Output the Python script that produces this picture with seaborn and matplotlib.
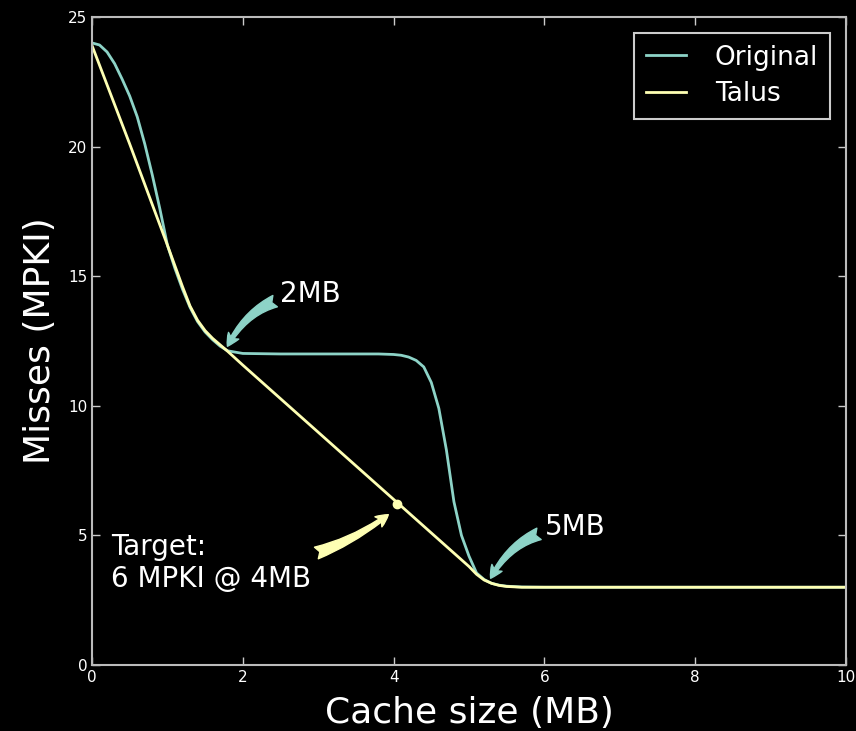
import matplotlib
matplotlib.use("Agg")
import matplotlib.pyplot as plt
import numpy as np
import pandas as pd
import seaborn as sns

# ---- data ----
orig_x = [0.0, 0.1, 0.2, 0.3, 0.4, 0.5, 0.6, 0.7, 0.8, 0.9, 1.0, 1.1, 1.2, 1.3,
          1.4, 1.5, 1.6, 1.7, 1.8, 2.0, 2.5, 3.0, 3.5, 3.8, 4.0, 4.1, 4.2, 4.3,
          4.4, 4.5, 4.6, 4.7, 4.8, 4.9, 5.0, 5.1, 5.2, 5.3, 5.4, 5.5, 5.7, 6.0,
          7.0, 8.0, 9.0, 10.0]
orig_y = [24.0, 23.92, 23.65, 23.2, 22.6, 21.95, 21.15, 20.1, 18.9, 17.6, 16.2, 15.3,
          14.5, 13.8, 13.25, 12.85, 12.55, 12.3, 12.12, 12.02, 12.0, 12.0, 12.0,
          12.0, 11.98, 11.95, 11.88, 11.75, 11.5, 10.9, 9.9, 8.3, 6.3, 5.0, 4.2,
          3.55, 3.3, 3.15, 3.08, 3.04, 3.01, 3.0, 3.0, 3.0, 3.0, 3.0]

talus_x = [0.0, 0.25, 0.5, 0.75, 1.0, 1.1, 1.2, 1.3, 1.4, 1.5, 1.6, 1.7, 1.8,
           2.0, 3.0, 4.0, 5.0, 5.1, 5.2, 5.3, 5.4, 5.5, 5.7, 6.0, 10.0]
talus_y = [23.9, 22.0, 20.1, 18.15, 16.2, 15.4, 14.6, 13.85, 13.3, 12.9, 12.6,
           12.35, 12.1, 11.57, 8.98, 6.39, 3.8, 3.5, 3.28, 3.15, 3.07, 3.03, 3.0,
           3.0, 3.0]

series_names = ["Original", "Talus"]
target_x = [4.05]
target_y = [6.22]
x_ticks = [0, 2, 4, 6, 8, 10]
y_ticks = [0, 5, 10, 15, 20, 25]

teal = "#8dd3c7"
yellow = "#feffb3"

plt.style.use("dark_background")
plt.rcParams["font.family"] = ["DejaVu Sans"]

df = pd.concat([
    pd.DataFrame({"x": orig_x, "y": orig_y, "series": series_names[0]}),
    pd.DataFrame({"x": talus_x, "y": talus_y, "series": series_names[1]}),
])

fig = plt.figure(figsize=(8.56, 7.31), dpi=100)
fig.patch.set_facecolor("black")
ax = fig.add_axes([92 / 856, 1 - 665 / 731, (846 - 92) / 856, (665 - 17) / 731])
ax.set_facecolor("black")

sns.lineplot(data=df, x="x", y="y", hue="series", palette=[teal, yellow],
             linewidth=2.0, estimator=None, sort=False, ax=ax)
ax.plot(target_x, target_y, "o", color=yellow, markersize=6, zorder=5)

ax.set_xlim(0, 10)
ax.set_ylim(0, 25)
ax.set_xticks(x_ticks)
ax.set_yticks(y_ticks)
ax.set_xlabel("Cache size (MB)", fontsize=26, color="white", labelpad=8)
ax.set_ylabel("Misses (MPKI)", fontsize=26, color="white", labelpad=8)
ax.tick_params(direction="in", top=True, right=True, length=6, width=1,
               colors="#cccccc", labelsize=11, labelcolor="white")
for s in ax.spines.values():
    s.set_color("#bbbbbb")
    s.set_linewidth(1.5)

arrow_kw = dict(arrowstyle="fancy", connectionstyle="arc3,rad=0.3",
                shrinkA=2, shrinkB=2)
ax.annotate("2MB", xy=(1.78, 12.2), xytext=(2.5, 14), fontsize=20, color="white",
            arrowprops=dict(color=teal, mutation_scale=22, **arrow_kw))
ax.annotate("5MB", xy=(5.27, 3.25), xytext=(6, 5), fontsize=20, color="white",
            arrowprops=dict(color=teal, mutation_scale=22, **arrow_kw))
ax.annotate("Target:\n6 MPKI @ 4MB", xy=(3.93, 5.8), xytext=(0.25, 3),
            fontsize=20, color="white",
            arrowprops=dict(color=yellow, arrowstyle="fancy", mutation_scale=22,
                            connectionstyle="arc3,rad=0.2", shrinkA=2, shrinkB=0))

handles, labels = ax.get_legend_handles_labels()
leg = ax.legend(handles, labels, loc="upper right", fontsize=19, frameon=True,
                fancybox=False, edgecolor="#cccccc", facecolor="black",
                handlelength=1.5, handletextpad=1.1, labelspacing=0.4,
                borderpad=0.45, borderaxespad=0.6, framealpha=1)
leg.get_frame().set_linewidth(1.5)

fig.savefig("out.png", dpi=100, facecolor="black")
